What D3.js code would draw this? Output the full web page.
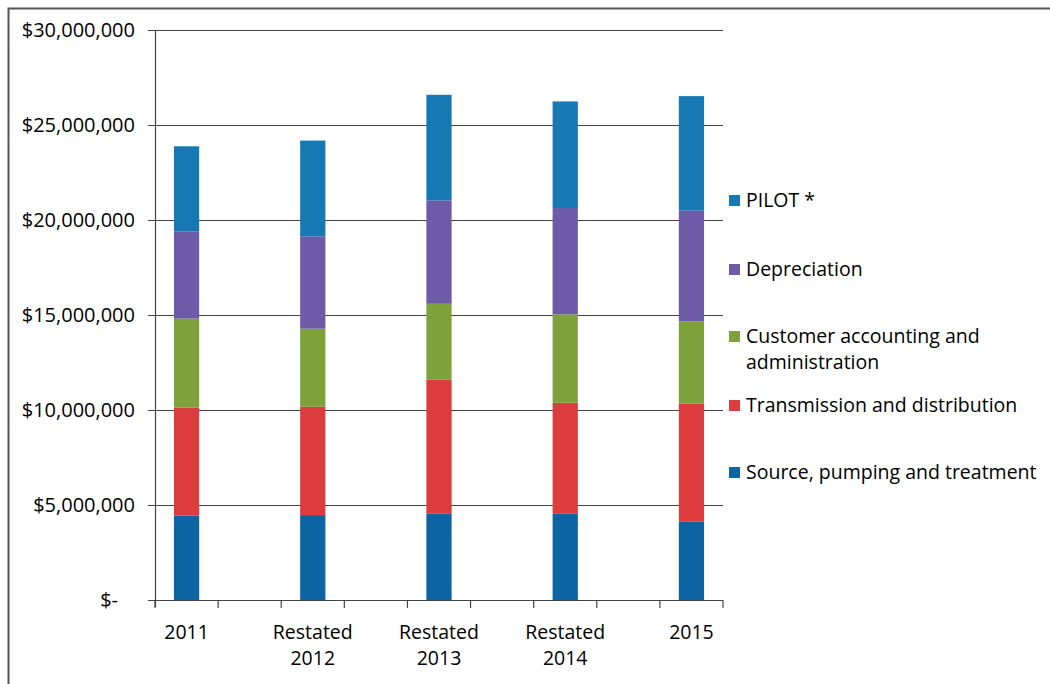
<!DOCTYPE html>
<html>
<head>
<meta charset="utf-8">
<script src="https://cdn.jsdelivr.net/npm/d3@7"></script>
<style>
  html, body { margin: 0; padding: 0; background: #fff; }
  svg { display: block; font-family: "Open Sans", Lato, sans-serif; }
</style>
</head>
<body>
<svg id="chart" width="1050" height="684"></svg>
<script>
// Operating cost breakdown, in dollars
const categories = ["2011", "Restated 2012", "Restated 2013", "Restated 2014", "2015"];
const sourcePumping   = [4440000, 4470000, 4560000, 4560000, 4140000];
const transmission    = [5680000, 5700000, 7030000, 5820000, 6190000];
const customerAdmin   = [4690000, 4110000, 4000000, 4650000, 4340000];
const depreciation    = [4580000, 4860000, 5440000, 5600000, 5840000];
const pilot           = [4490000, 5040000, 5560000, 5610000, 6010000];

const seriesNames = ["Source, pumping and treatment", "Transmission and distribution",
                     "Customer accounting and administration", "Depreciation", "PILOT *"];
const seriesColors = ["#0d64a3", "#dc3c3d", "#7ea23b", "#6d5ba8", "#1679b4"];
const yTicks = [0, 5000000, 10000000, 15000000, 20000000, 25000000, 30000000];

const rows = categories.map((c, i) => ({
  category: c,
  [seriesNames[0]]: sourcePumping[i],
  [seriesNames[1]]: transmission[i],
  [seriesNames[2]]: customerAdmin[i],
  [seriesNames[3]]: depreciation[i],
  [seriesNames[4]]: pilot[i]
}));

const svg = d3.select("#chart");
const plotLeft = 155, plotRight = 723, plotTop = 30, plotBottom = 600;

// Frame around the chart
svg.append("path")
  .attr("d", "M8.5,684 L8.5,8.5 L1050,8.5")
  .attr("fill", "none").attr("stroke", "#555").attr("stroke-width", 2);

// The category axis has a blank slot between each labelled year
const slots = [];
categories.forEach((c, i) => { slots.push(c); if (i < categories.length - 1) slots.push("gap" + i); });

const x = d3.scaleBand().domain(slots).range([plotLeft, plotRight]).paddingInner(0.6).paddingOuter(0.3);
const step = x.step();
const y = d3.scaleLinear().domain([0, 30000000]).range([plotBottom, plotTop]);

// Gridlines
svg.append("g").selectAll("line").data(yTicks.slice(1)).join("line")
  .attr("x1", plotLeft - 7).attr("x2", plotRight)
  .attr("y1", d => Math.round(y(d)) + 0.5).attr("y2", d => Math.round(y(d)) + 0.5)
  .attr("stroke", "#444").attr("stroke-width", 1.2);

// Y axis labels
const fmt = d => d === 0 ? "$-" : "$" + d3.format(",")(d);
svg.append("g").selectAll("text").data(yTicks).join("text")
  .attr("x", d => d === 0 ? 118 : 135)
  .attr("y", d => y(d))
  .attr("dy", "0.35em")
  .attr("text-anchor", "end")
  .attr("font-size", 20)
  .attr("fill", "#000")
  .text(fmt);

// Stacked bars
const stack = d3.stack().keys(seriesNames);
const layers = stack(rows);
const bw = step * 0.4;
svg.append("g").selectAll("g").data(layers).join("g")
  .attr("fill", (d, i) => seriesColors[i])
  .selectAll("rect").data(d => d).join("rect")
  .attr("x", d => x(d.data.category) + x.bandwidth() / 2 - bw / 2)
  .attr("width", bw)
  .attr("y", d => y(d[1]))
  .attr("height", d => y(d[0]) - y(d[1]));

// Axis lines
svg.append("line").attr("x1", plotLeft + 0.5).attr("x2", plotLeft + 0.5).attr("y1", plotTop).attr("y2", plotBottom + 7)
  .attr("stroke", "#444").attr("stroke-width", 1.2);
svg.append("line").attr("x1", plotLeft - 7).attr("x2", plotRight).attr("y1", plotBottom + 0.5).attr("y2", plotBottom + 0.5)
  .attr("stroke", "#444").attr("stroke-width", 1.2);

// Category tick marks at slot boundaries
const boundaries = d3.range(slots.length + 1).map(i => plotLeft + i * step);
svg.append("g").selectAll("line").data(boundaries).join("line")
  .attr("x1", d => d).attr("x2", d => d)
  .attr("y1", plotBottom).attr("y2", plotBottom + 8)
  .attr("stroke", "#444").attr("stroke-width", 1.2);

// Category labels, wrapped on the space
const labels = svg.append("g").selectAll("text").data(categories).join("text")
  .attr("x", d => x(d) + x.bandwidth() / 2)
  .attr("y", 632)
  .attr("text-anchor", "middle")
  .attr("font-size", 19.5)
  .attr("fill", "#000");
labels.each(function(d) {
  const parts = d.split(" ");
  const t = d3.select(this);
  parts.forEach((p, i) => {
    t.append("tspan").attr("x", x(d) + x.bandwidth() / 2).attr("dy", i === 0 ? "0.35em" : 26).text(p);
  });
});

// Legend
const legendItems = [
  { color: seriesColors[4], lines: ["PILOT *"], y: 200 },
  { color: seriesColors[3], lines: ["Depreciation"], y: 269 },
  { color: seriesColors[2], lines: ["Customer accounting and", "administration"], y: 336 },
  { color: seriesColors[1], lines: ["Transmission and distribution"], y: 405 },
  { color: seriesColors[0], lines: ["Source, pumping and treatment"], y: 472 }
];
const lg = svg.append("g").selectAll("g").data(legendItems).join("g");
lg.append("rect").attr("x", 729).attr("y", d => d.y - 5).attr("width", 11).attr("height", 11)
  .attr("fill", d => d.color);
lg.append("text")
  .attr("x", 746).attr("y", d => d.y)
  .attr("font-size", 19.5).attr("fill", "#000")
  .each(function(d) {
    const t = d3.select(this);
    d.lines.forEach((l, i) => t.append("tspan").attr("x", 746).attr("dy", i === 0 ? "0.35em" : 26).text(l));
  });
</script>
</body>
</html>
